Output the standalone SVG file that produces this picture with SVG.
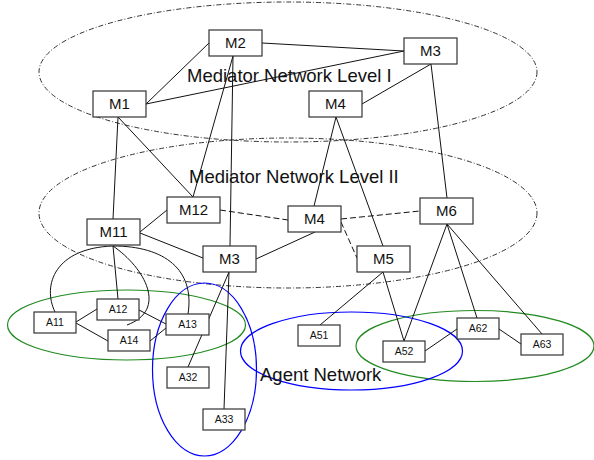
<svg xmlns="http://www.w3.org/2000/svg" width="594" height="460" viewBox="0 0 594 460">
  <style>
    .region { fill: none; stroke: #333; stroke-width: 1; stroke-dasharray: 5 2 1 2; }
    .agentset { fill: none; stroke-width: 1.2; }
    .green { stroke: #228B22; }
    .blue { stroke: #0000FF; }
    .edge { fill: none; stroke: #111; stroke-width: 1; }
    .soft { stroke-dasharray: 6 3; }
    .node rect { fill: #fff; stroke: #333; stroke-width: 1.2; }
    .mlabel { font-family: "Liberation Sans", Arial, sans-serif; font-size: 15px; fill: #111; text-anchor: middle; }
    .alabel { font-family: "Liberation Sans", Arial, sans-serif; font-size: 10.5px; fill: #111; text-anchor: middle; }
    .title { font-family: "Liberation Sans", Arial, sans-serif; font-size: 18.5px; fill: #111; }
  </style>

  <!-- network regions -->
  <g id="regions">
    <ellipse class="region" cx="288" cy="72" rx="249" ry="70"/>
    <ellipse class="region" cx="288" cy="213" rx="249" ry="75"/>
    <ellipse class="agentset green" cx="126.5" cy="325" rx="119" ry="35"/>
    <ellipse class="agentset green" cx="475" cy="346" rx="119" ry="35.5"/>
    <ellipse class="agentset blue" cx="351.5" cy="351" rx="111" ry="39"/>
    <ellipse class="agentset blue" cx="204.5" cy="369.5" rx="52" ry="86.5"/>
  </g>

  <!-- connectors -->
  <g id="connectors" class="edge">
    <line x1="209" y1="43" x2="146" y2="104"/>
    <line x1="262" y1="43" x2="404" y2="51"/>
    <line x1="146" y1="104" x2="404" y2="51"/>
    <line x1="431" y1="64" x2="362" y2="104"/>
    <line x1="233" y1="56" x2="193" y2="197"/>
    <line x1="233" y1="56" x2="230" y2="246"/>
    <line x1="118" y1="117" x2="113" y2="219"/>
    <line x1="118" y1="117" x2="193" y2="197"/>
    <line x1="336" y1="117" x2="314" y2="206"/>
    <line x1="336" y1="117" x2="383" y2="246"/>
    <line x1="431" y1="64" x2="447" y2="198"/>
    <line x1="140" y1="232" x2="167" y2="210"/>
    <line x1="140" y1="233" x2="203" y2="258"/>
    <line x1="256" y1="259" x2="315" y2="232"/>
    <line class="soft" x1="220" y1="210" x2="288" y2="220"/>
    <line class="soft" x1="341" y1="219" x2="420" y2="211"/>
    <line class="soft" x1="341" y1="222" x2="357" y2="258"/>
    <line x1="229" y1="272" x2="188" y2="367"/>
    <line x1="229" y1="272" x2="224" y2="409"/>
    <line x1="383" y1="272" x2="320" y2="325"/>
    <line x1="383" y1="272" x2="404" y2="341"/>
    <line x1="447" y1="224" x2="404" y2="341"/>
    <line x1="447" y1="224" x2="477" y2="318"/>
    <line x1="447" y1="224" x2="542" y2="334"/>
    <line x1="425" y1="351" x2="457" y2="329"/>
    <line x1="499" y1="329" x2="521" y2="344"/>
    <line x1="76" y1="322" x2="97" y2="309"/>
    <line x1="76" y1="323" x2="108" y2="341"/>
    <line x1="139" y1="310" x2="166" y2="324"/>
    <line x1="150" y1="341" x2="166" y2="328"/>
    <line x1="113" y1="246" x2="118" y2="299"/>
    <path d="M113,246 C55,248 42,285 55,312"/>
    <path d="M113,246 C165,246 195,270 188,314"/>
    <path d="M113,246 C145,268 168,310 127,325"/>
  </g>

  <!-- mediator nodes -->
  <g id="M1" class="node"><rect x="93" y="91" width="53" height="26"/><text class="mlabel" x="119.5" y="109.3">M1</text></g>
  <g id="M2" class="node"><rect x="209" y="30" width="53" height="26"/><text class="mlabel" x="235.5" y="48.3">M2</text></g>
  <g id="M3" class="node"><rect x="404" y="38" width="53" height="26"/><text class="mlabel" x="430.5" y="56.3">M3</text></g>
  <g id="M4" class="node"><rect x="309" y="91" width="53" height="26"/><text class="mlabel" x="335.5" y="109.3">M4</text></g>
  <g id="M12" class="node"><rect x="167" y="197" width="53" height="26"/><text class="mlabel" x="193.5" y="215.3">M12</text></g>
  <g id="M11" class="node"><rect x="87" y="219" width="53" height="26"/><text class="mlabel" x="113.5" y="237.3">M11</text></g>
  <g id="M3-2" class="node"><rect x="203" y="246" width="53" height="26"/><text class="mlabel" x="229.5" y="264.3">M3</text></g>
  <g id="M4-2" class="node"><rect x="288" y="206" width="53" height="26"/><text class="mlabel" x="314.5" y="224.3">M4</text></g>
  <g id="M6" class="node"><rect x="420" y="198" width="53" height="26"/><text class="mlabel" x="446.5" y="216.3">M6</text></g>
  <g id="M5" class="node"><rect x="357" y="246" width="53" height="26"/><text class="mlabel" x="383.5" y="264.3">M5</text></g>

  <!-- agent nodes -->
  <g id="A11" class="node"><rect x="34" y="312" width="42" height="21"/><text class="alabel" x="55" y="326.3">A11</text></g>
  <g id="A12" class="node"><rect x="97" y="299" width="42" height="21"/><text class="alabel" x="118" y="313.3">A12</text></g>
  <g id="A13" class="node"><rect x="166" y="314" width="43" height="21"/><text class="alabel" x="187.5" y="328.3">A13</text></g>
  <g id="A14" class="node"><rect x="108" y="330" width="42" height="21"/><text class="alabel" x="129" y="344.3">A14</text></g>
  <g id="A32" class="node"><rect x="167" y="367" width="42" height="21"/><text class="alabel" x="188" y="381.3">A32</text></g>
  <g id="A33" class="node"><rect x="203" y="409" width="42" height="21"/><text class="alabel" x="224" y="423.3">A33</text></g>
  <g id="A51" class="node"><rect x="298" y="325" width="42" height="21"/><text class="alabel" x="319" y="339.3">A51</text></g>
  <g id="A52" class="node"><rect x="383" y="341" width="42" height="21"/><text class="alabel" x="404" y="355.3">A52</text></g>
  <g id="A62" class="node"><rect x="457" y="318" width="42" height="21"/><text class="alabel" x="478" y="332.3">A62</text></g>
  <g id="A63" class="node"><rect x="521" y="334" width="42" height="21"/><text class="alabel" x="542" y="348.3">A63</text></g>

  <!-- region titles -->
  <g id="titles">
    <text class="title" x="187" y="81.5">Mediator Network Level I</text>
    <text class="title" x="189" y="182.5">Mediator Network Level II</text>
    <text class="title" x="260" y="381">Agent Network</text>
  </g>
</svg>
